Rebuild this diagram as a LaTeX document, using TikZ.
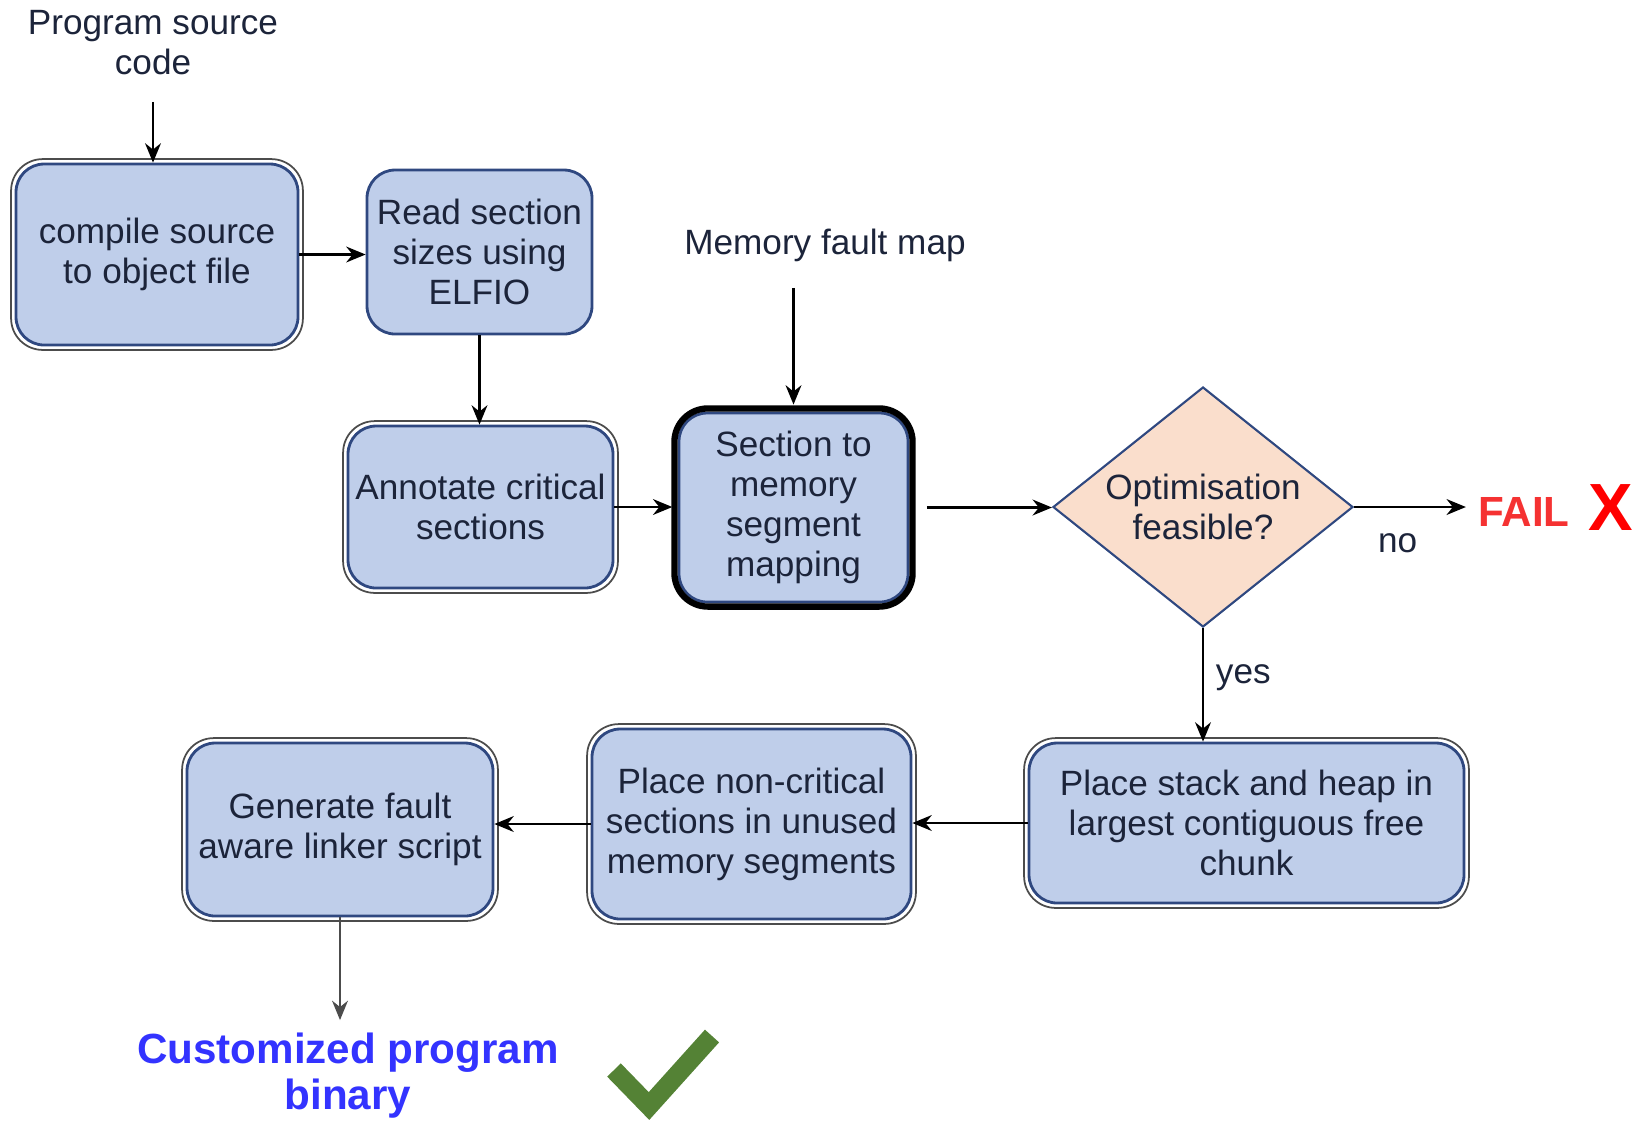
\documentclass[tikz,border=0pt]{standalone}
\usepackage{fontspec}
\setmainfont{Liberation Sans}
\usetikzlibrary{shapes.geometric,arrows.meta}
\definecolor{boxfill}{RGB}{191,206,234}
\definecolor{boxline}{RGB}{47,72,128}
\definecolor{ink}{RGB}{28,36,58}
\definecolor{peach}{RGB}{250,222,204}
\definecolor{okgreen}{RGB}{84,130,53}
\definecolor{custblue}{RGB}{51,51,255}
\definecolor{failred}{RGB}{245,50,50}
\begin{document}
\begin{tikzpicture}[
  box/.style={rectangle, rounded corners=8pt, draw=boxline, fill=boxfill, line width=0.8pt,
    align=center, text=ink, font=\fontsize{10}{11.4}\selectfont, inner sep=1pt},
  ring/.style={draw=black!70, line width=0.5pt, rounded corners=9pt},
  label/.style={text=ink, align=center, font=\fontsize{10}{11.4}\selectfont},
  arr/.style={-{Stealth[length=5.5pt,width=4.5pt]}, line width=0.7pt, black}
]
\useasboundingbox (0,0) rectangle (16.37,-11.22);

% Inputs
\node[label] (src) at (1.53,-0.43) {Program source\\code};
\node[label] (fmap) at (8.25,-2.45) {Memory fault map};

% Process boxes
\node[box, minimum width=2.82cm, minimum height=1.81cm] (compile) at (1.57,-2.545) {compile source\\to object file};
\node[box, minimum width=2.25cm, minimum height=1.64cm] (read) at (4.795,-2.52) {Read section\\sizes using\\ELFIO};
\node[box, minimum width=2.65cm, minimum height=1.62cm] (annot) at (4.805,-5.07) {Annotate critical\\sections};
\node[box, minimum width=2.29cm, minimum height=1.89cm] (section) at (7.935,-5.075) {Section to\\memory\\segment\\mapping};
\node[box, minimum width=4.35cm, minimum height=1.60cm] (stack) at (12.465,-8.23) {Place stack and heap in\\largest contiguous free\\chunk};
\node[box, minimum width=3.19cm, minimum height=1.90cm] (noncrit) at (7.515,-8.24) {Place non-critical\\sections in unused\\memory segments};
\node[box, minimum width=3.06cm, minimum height=1.73cm] (gen) at (3.40,-8.295) {Generate fault\\aware linker script};

% Decision
\node[diamond, aspect=1.25, minimum width=3cm, minimum height=2.4cm, inner sep=0pt,
  draw=boxline, line width=0.6pt, fill=peach, align=center, text=ink,
  font=\fontsize{10}{11.6}\selectfont] (feas) at (12.03,-5.07) {Optimisation\\feasible?};

% Outer borders
\foreach \n in {compile,annot,noncrit,gen,stack} {
    \draw[ring] ([shift={(-1pt,1pt)}]\n.north west) rectangle ([shift={(1pt,-1pt)}]\n.south east);
}
\draw[ring, draw=black, line width=1.8pt, rounded corners=9.5pt] ([shift={(-0.9pt,0.9pt)}]section.north west) rectangle ([shift={(0.9pt,-0.9pt)}]section.south east);

% Outcomes
\node[text=failred, font=\bfseries\fontsize{12}{14}\selectfont] (fail) at (15.24,-5.12) {FAIL};
\node[text=red, font=\bfseries\fontsize{19}{22}\selectfont] (xmark) at (16.11,-5.08) {X};
\node[text=custblue, align=center, font=\bfseries\fontsize{12}{13.3}\selectfont] (cust) at (3.48,-10.755) {Customized program\\binary};
\draw[okgreen, line width=5.4pt, line join=miter] (6.14,-10.70) -- (6.49,-11.06) -- (7.12,-10.36);

% Connectors
\draw[arr, shorten <=4pt] (src.south) -- (src.south |- compile.north);
\draw[arr] (compile.east) -- (compile.east -| read.west);
\draw[arr] (read.south) -- (read.south |- annot.north);
\draw[arr, shorten >=1.5pt] (annot.east) -- (annot.east -| section.west);
\draw[arr, shorten <=4pt, shorten >=2pt] (fmap.south -| section.north) -- (section.north);
\draw[arr, shorten <=5pt] (section.east) -- (section.east -| feas.west);
\draw[arr] (feas.east) -- (feas.east -| fail.west) node[label, pos=0.39, below=4pt] (no) {no};
\draw[arr] (feas.south) -- (feas.south |- stack.north) node[label, pos=0.44, right] (yes) {yes};
\draw[arr] (stack.west) -- (stack.west -| noncrit.east);
\draw[arr] (noncrit.west) -- (noncrit.west -| gen.east);
\draw[arr, black!70] (gen.south) -- (gen.south |- cust.north);
\end{tikzpicture}
\end{document}
